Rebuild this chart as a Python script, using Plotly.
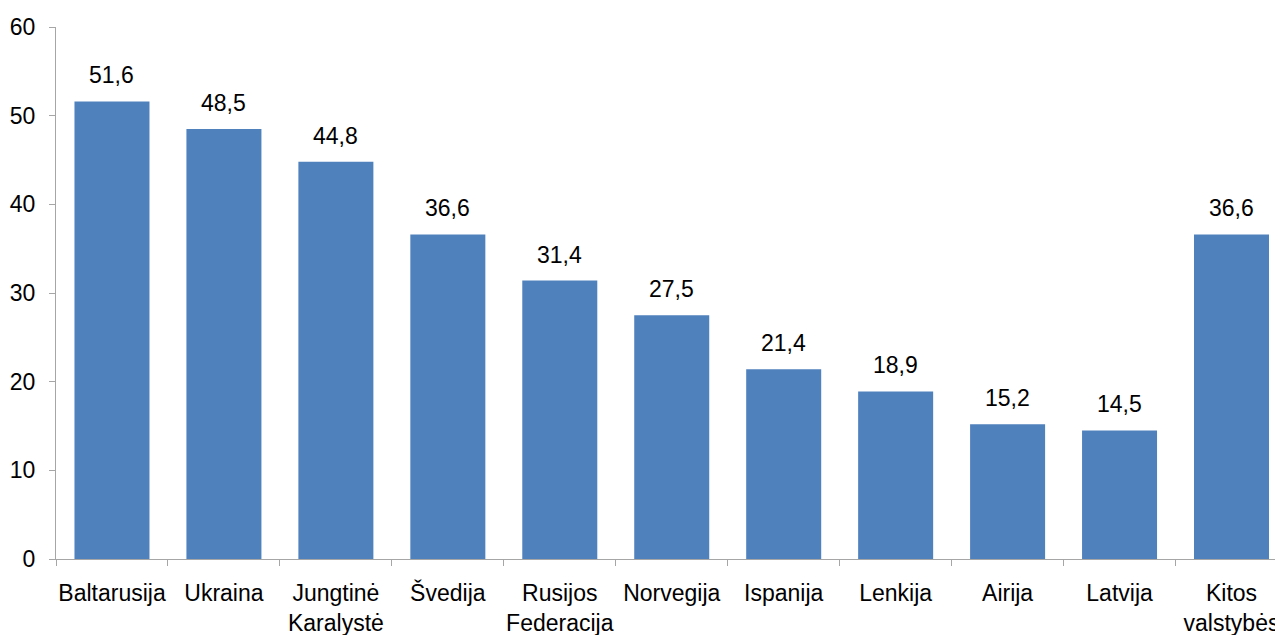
import plotly.graph_objects as go

# ── Data ────────────────────────────────────────────────────────────────────
COUNTRIES = [
    "Baltarusija", "Ukraina", "Jungtinė<br>Karalystė", "Švedija",
    "Rusijos<br>Federacija", "Norvegija", "Ispanija", "Lenkija",
    "Airija", "Latvija", "Kitos<br>valstybės",
]
VALUES = [51.6, 48.5, 44.8, 36.6, 31.4, 27.5, 21.4, 18.9, 15.2, 14.5, 36.6]
Y_TICKS = [0, 10, 20, 30, 40, 50, 60]

BAR_BLUE = "#4F81BD"
AXIS_GREY = "#A6A6A6"
FONT = "Liberation Sans, Arial, sans-serif"
FS = 23

fig = go.Figure()

fig.add_trace(go.Bar(
    x=COUNTRIES,
    y=VALUES,
    marker_color=BAR_BLUE,
    marker_line_width=0,
    showlegend=False,
))

# value labels above each bar
for c, v in zip(COUNTRIES, VALUES):
    fig.add_annotation(
        x=c, y=v,
        text=f"{v:.1f}".replace(".", ","),
        showarrow=False,
        yanchor="bottom",
        yshift=11,
        font=dict(family=FONT, size=FS, color="black"),
    )

fig.update_xaxes(
    range=[-0.5, 10.46],
    automargin=False,
    tickangle=0,
    showline=True, linecolor=AXIS_GREY, linewidth=1,
    ticks="outside", tickson="boundaries", ticklen=6, tickcolor=AXIS_GREY,
    ticklabelstandoff=13,
    tickfont=dict(family=FONT, size=FS, color="black"),
    showgrid=False,
)
fig.update_yaxes(
    range=[0, 60],
    automargin=False,
    tickvals=Y_TICKS,
    showline=True, linecolor=AXIS_GREY, linewidth=1,
    ticks="outside", ticklen=6, tickcolor=AXIS_GREY,
    ticklabelstandoff=9,
    tickfont=dict(family=FONT, size=FS, color="black"),
    showgrid=False, zeroline=False,
)

# page body adds an 8px offset, so margins are trimmed by that amount
fig.update_layout(
    width=1275, height=640,
    bargap=0.33,
    plot_bgcolor="white", paper_bgcolor="white",
    margin=dict(l=48, r=0, t=19, b=89),
    font=dict(family=FONT, size=FS, color="black"),
)

fig.write_html("out.html")
